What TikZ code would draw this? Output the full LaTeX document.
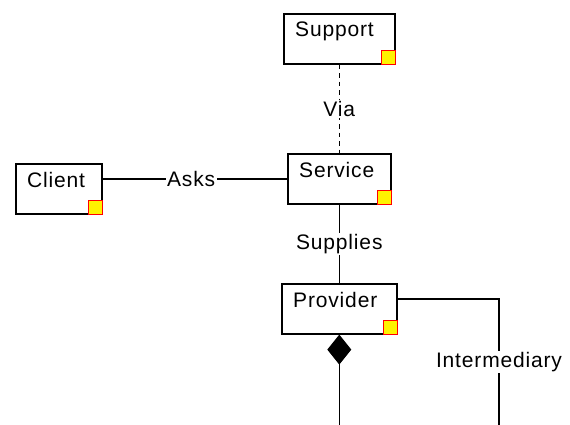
\documentclass[tikz,border=0pt]{standalone}
\usepackage{fontspec}
\setmainfont{Liberation Sans}[LetterSpace=4]
\usetikzlibrary{arrows.meta,calc}
\begin{document}
\begin{tikzpicture}[x=1pt,y=-1pt,
  box/.style={draw=black, line width=1.6pt, fill=white, anchor=north west,
    inner sep=0pt, minimum height=50pt},
  title/.style={anchor=base west, inner sep=0pt, font=\fontsize{21}{24}\selectfont},
  marker/.style={draw=red, fill=yellow, line width=0.9pt, anchor=south east,
    inner sep=0pt, minimum size=14pt},
  link/.style={line width=1.5pt, black},
  dotted link/.style={link, dash pattern=on 4.5pt off 4pt},
  lbl/.style={fill=white, inner sep=1.5pt, font=\fontsize{21}{24}\selectfont}]
\useasboundingbox[fill=white] (0,0) rectangle (570,425);

% classes
\node[box, minimum width=111pt] (support) at (283,13) {};
\node[box, minimum width=86pt]  (client)  at (15,163) {};
\node[box, minimum width=103pt] (service) at (287,153) {};
\node[box, minimum width=115pt] (provider) at (281,283) {};

\foreach \c/\t in {support/Support, client/Client, service/Service, provider/Provider}{
  \node[title] (\c name) at ($(\c.north west)+(12,24)$) {\t};
  \node[marker] (\c mark) at (\c.south east) {};
}

% free ends at the lower edge
\coordinate (partend) at (provider.south |- 0,425);
\coordinate (brokerend) at (499,425);

% associations
\draw[dotted link] (support.south) -- node[lbl] (via) {Via} (service.north);
\draw[link] (client.east |- 0,179) -- node[lbl, pos=0.48] (asks) {Asks} (service.west |- 0,179);
\draw[link] (service.south) -- node[lbl] (supplies) {Supplies} (provider.north);
\draw[link] (provider.east |- 0,299) -| node[lbl, pos=0.75] (broker) {Intermediary} (brokerend);
\draw[link, {Diamond[length=30pt,width=24pt]}-] (provider.south) -- (partend);
\end{tikzpicture}
\end{document}
